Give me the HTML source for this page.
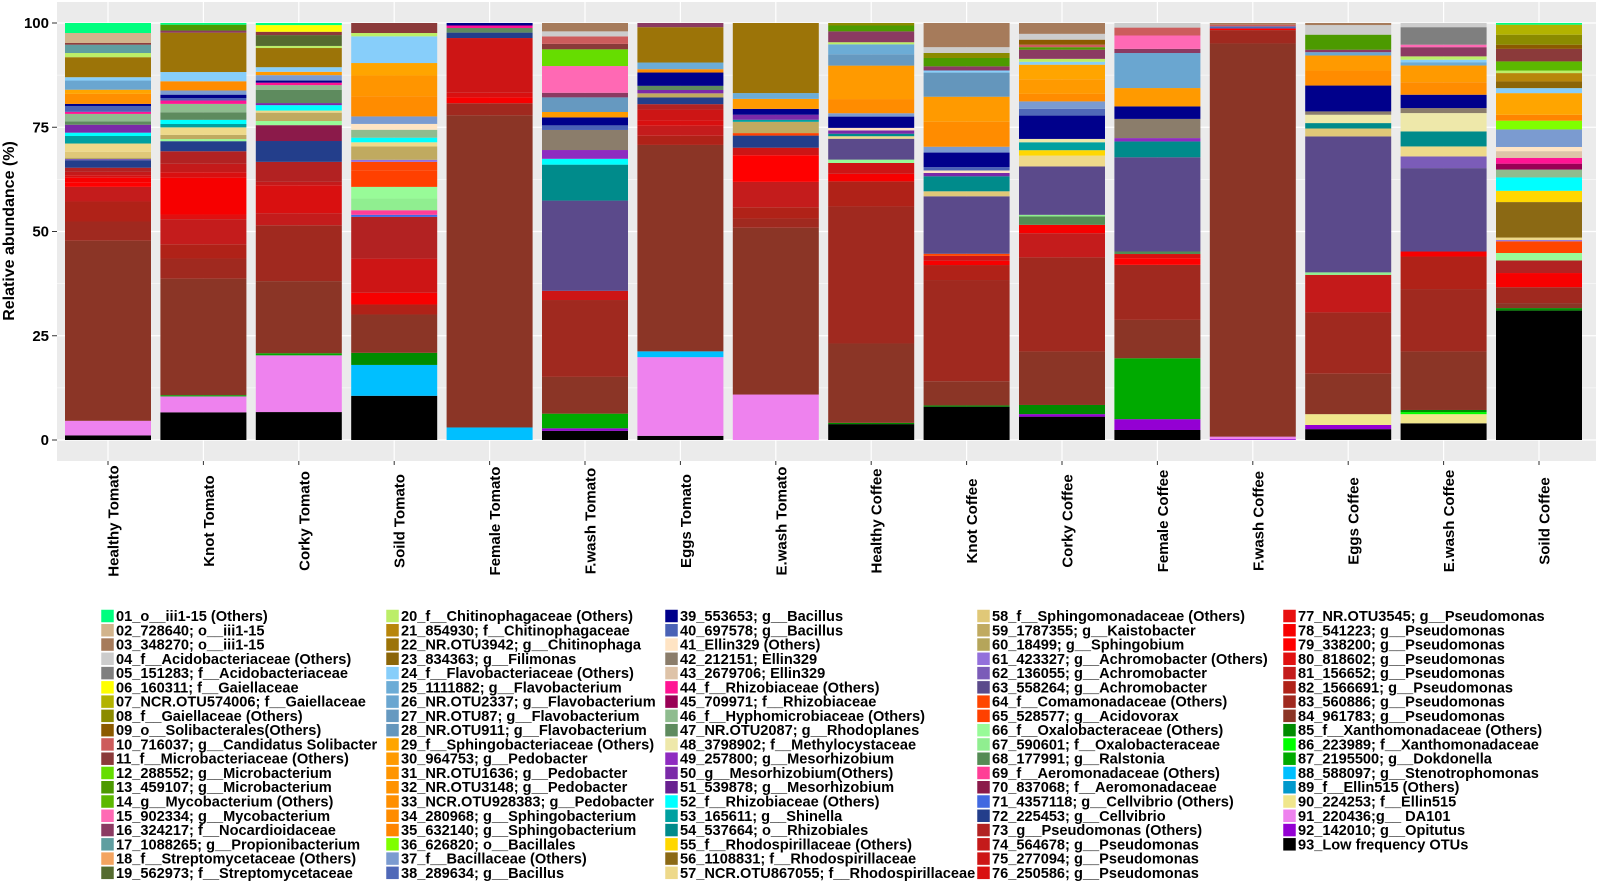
<!DOCTYPE html>
<html><head><meta charset="utf-8">
<style>
html,body{margin:0;padding:0;background:#fff;}
svg{display:block;font-family:"Liberation Sans",Arial,sans-serif;}
</style></head>
<body>
<svg id="chart" width="1598" height="883" viewBox="0 0 1598 883" xmlns="http://www.w3.org/2000/svg">
  <rect x="57" y="2" width="1539" height="459" fill="#ebebeb"/>
  <g id="grid"></g>
  <g id="bars"></g>
  <g id="yaxis"></g>
  <g id="xaxis"></g>
  <text transform="translate(14,231) rotate(-90)" text-anchor="middle" font-size="16" font-weight="bold" fill="#000">Relative abundance (%)</text>
  <g id="legend"></g>
</svg>
<script>
const samples = ["Healthy Tomato","Knot Tomato","Corky Tomato","Soild Tomato","Female Tomato","F.wash Tomato","Eggs Tomato","E.wash Tomato","Healthy Coffee","Knot Coffee","Corky Coffee","Female Coffee","F.wash Coffee","Eggs Coffee","E.wash Coffee","Soild Coffee"];
const yTicks = [0,25,50,75,100];
const categories = ["01_o__iii1-15  (Others)","02_728640; o__iii1-15","03_348270; o__iii1-15","04_f__Acidobacteriaceae (Others)","05_151283; f__Acidobacteriaceae","06_160311; f__Gaiellaceae","07_NCR.OTU574006; f__Gaiellaceae","08_f__Gaiellaceae (Others)","09_o__Solibacterales(Others)","10_716037; g__Candidatus Solibacter","11_f__Microbacteriaceae (Others)","12_288552; g__Microbacterium","13_459107; g__Microbacterium","14_g__Mycobacterium (Others)","15_902334; g__Mycobacterium","16_324217; f__Nocardioidaceae","17_1088265; g__Propionibacterium","18_f__Streptomycetaceae (Others)","19_562973; f__Streptomycetaceae","20_f__Chitinophagaceae (Others)","21_854930; f__Chitinophagaceae","22_NR.OTU3942; g__Chitinophaga","23_834363; g__Filimonas","24_f__Flavobacteriaceae (Others)","25_1111882; g__Flavobacterium","26_NR.OTU2337; g__Flavobacterium","27_NR.OTU87; g__Flavobacterium","28_NR.OTU911; g__Flavobacterium","29_f__Sphingobacteriaceae  (Others)","30_964753; g__Pedobacter","31_NR.OTU1636; g__Pedobacter","32_NR.OTU3148; g__Pedobacter","33_NCR.OTU928383; g__Pedobacter","34_280968; g__Sphingobacterium","35_632140; g__Sphingobacterium","36_626820; o__Bacillales","37_f__Bacillaceae (Others)","38_289634; g__Bacillus","39_553653; g__Bacillus","40_697578; g__Bacillus","41_Ellin329 (Others)","42_212151; Ellin329","43_2679706; Ellin329","44_f__Rhizobiaceae (Others)","45_709971; f__Rhizobiaceae","46_f__Hyphomicrobiaceae (Others)","47_NR.OTU2087; g__Rhodoplanes","48_3798902; f__Methylocystaceae","49_257800; g__Mesorhizobium","50_g__Mesorhizobium(Others)","51_539878; g__Mesorhizobium","52_f__Rhizobiaceae  (Others)","53_165611; g__Shinella","54_537664; o__Rhizobiales","55_f__Rhodospirillaceae (Others)","56_1108831; f__Rhodospirillaceae","57_NCR.OTU867055; f__Rhodospirillaceae","58_f__Sphingomonadaceae (Others)","59_1787355; g__Kaistobacter","60_18499; g__Sphingobium","61_423327; g__Achromobacter (Others)","62_136055; g__Achromobacter","63_558264; g__Achromobacter","64_f__Comamonadaceae (Others)","65_528577; g__Acidovorax","66_f__Oxalobacteraceae  (Others)","67_590601; f__Oxalobacteraceae","68_177991; g__Ralstonia","69_f__Aeromonadaceae  (Others)","70_837068; f__Aeromonadaceae","71_4357118; g__Cellvibrio (Others)","72_225453; g__Cellvibrio","73_g__Pseudomonas (Others)","74_564678; g__Pseudomonas","75_277094; g__Pseudomonas","76_250586; g__Pseudomonas","77_NR.OTU3545; g__Pseudomonas","78_541223; g__Pseudomonas","79_338200; g__Pseudomonas","80_818602; g__Pseudomonas","81_156652; g__Pseudomonas","82_1566691; g__Pseudomonas","83_560886; g__Pseudomonas","84_961783; g__Pseudomonas","85_f__Xanthomonadaceae (Others)","86_223989; f__Xanthomonadaceae","87_2195500; g__Dokdonella","88_588097; g__Stenotrophomonas","89_f__Ellin515 (Others)","90_224253; f__Ellin515","91_220436;g__ DA101","92_142010; g__Opitutus","93_Low frequency OTUs"];
const palette = ["#00FF7F","#D2B48C","#A67B5B","#CCCCCC","#7F7F7F","#FFFF00","#B3B300","#8B8B00","#8B5A00","#CD5C5C","#8B3A3A","#66DD00","#4C9A00","#5CB800","#FF69B4","#8B3A62","#5F9EA0","#F4A460","#556B2F","#BCEE68","#B8860B","#9C7408","#8B6508","#87CEFA","#6CACD6","#6AA6D0","#6699C0","#6496BC","#FFA500","#FF9A00","#FF9500","#FF9200","#FF8F00","#FF8C00","#FF8500","#7FFF00","#7B9BD0","#4F68B8","#00008B","#4A62B6","#FFE4C4","#8B7D6B","#DEC3A8","#FF1493","#990055","#8FBC8F","#5E8B5E","#EEE8AA","#8E2BC0","#7A2AA8","#682090","#00FFFF","#00A0A0","#008B8B","#FFD700","#8B6914","#EED98A","#E0C878","#C0AA60","#B5A55A","#9370DB","#7B5CB8","#5B4A8B","#FF4500","#FF4000","#98FB98","#90EE90","#548B54","#FF3E96","#8B1A4A","#4169E1","#233E8B","#B22222","#C41A1A","#CD1515","#D91010","#E81010","#F70000","#FF0000","#E01010","#C41C1C","#B02218","#A0291F","#8B3526","#008B00","#00FF00","#00AA00","#00BFFF","#0099CC","#F0E68C","#EE82EE","#9400D3","#000000"];
// [category number, % abundance] per sample
const healthyTomato = [[1,2.4],[2,2.4],[11,0.4],[17,2],[20,1],[22,4.8],[24,0.8],[26,2.2],[29,1],[33,2.4],[39,0.5],[40,1.4],[44,0.5],[46,1.8],[47,0.8],[50,1.9],[52,0.8],[53,1.8],[57,2],[58,1.4],[60,0.3],[62,0.3],[72,1.8],[73,1],[74,0.8],[76,0.6],[78,1.2],[79,1],[81,3.5],[82,4.8],[83,4.6],[84,43.2],[91,3.5],[93,1.1]];
const knotTomato = [[1,0.4],[13,1.4],[16,0.5],[22,9.4],[24,2.2],[34,2.2],[37,1],[39,0.8],[40,0.6],[44,0.8],[46,2],[47,1.8],[52,1],[53,0.8],[57,1.8],[59,1],[66,0.5],[72,2.4],[73,3],[74,2],[76,1.3],[78,8.8],[80,1.1],[81,6],[82,3.4],[83,4.8],[84,27.8],[87,0.3],[91,3.8],[93,6.6]];
const corkyTomato = [[1,0.5],[6,1.6],[11,0.8],[19,2.6],[20,0.5],[22,4.6],[24,1.1],[30,0.8],[37,1.3],[39,0.5],[44,0.6],[46,1.1],[47,3.2],[50,0.5],[52,1.3],[57,0.5],[59,2],[66,1],[70,3.8],[72,5],[73,4.8],[74,0.8],[76,6.7],[81,2.9],[83,13.4],[84,17.3],[87,0.5],[91,13.6],[93,6.7]];
const soilTomato = [[11,2.4],[20,0.8],[24,6.4],[29,3],[31,5],[34,4.8],[37,1.8],[41,1.4],[46,1.9],[52,1.1],[57,1],[59,3.2],[61,0.5],[64,2],[65,4],[66,2.8],[67,2.8],[69,1.1],[71,0.5],[73,10],[75,8.2],[78,2.8],[82,2.4],[84,9.2],[85,2.9],[88,7.4],[93,10.6]];
const femaleTomato = [[44,0.6],[47,1.1],[39,0.6],[72,1.3],[76,1.1],[78,1.4],[75,13.1],[83,2.9],[84,74.7],[88,3]];
const fwashTomato = [[3,2],[4,1.2],[10,1.8],[11,1.3],[12,4],[15,6.4],[16,1.1],[27,3.5],[30,1.3],[39,1.9],[40,1.1],[42,4.8],[49,2.1],[52,1.4],[54,8.6],[63,21.6],[75,2.2],[83,18.4],[84,8.8],[87,3.5],[92,0.6],[93,2.2]];
const eggsTomato = [[16,1],[22,8.5],[25,1.6],[34,0.8],[39,3.2],[47,1],[50,0.8],[59,1],[72,1.6],[73,1.3],[75,2.6],[76,1.3],[81,2.4],[82,2.2],[84,49.6],[88,1.4],[91,18.9],[93,1]];
const ewashTomato = [[22,16.8],[25,1.4],[30,2.4],[39,1.4],[50,1.2],[53,0.5],[59,2.7],[65,0.6],[72,2.9],[75,1.8],[79,6.4],[81,6.1],[82,2.7],[83,2.2],[84,40],[91,10.9]];
const healthyCoffee = [[8,0.6],[13,1.4],[16,2.6],[20,0.5],[25,2.4],[27,2.7],[30,8],[34,3.4],[37,0.8],[39,2.7],[41,0.6],[50,0.8],[54,0.6],[57,0.6],[63,5],[66,0.8],[75,2.6],[78,1.8],[82,6],[83,32.8],[84,19],[85,0.3],[93,3.8]];
const knotCoffee = [[3,5.8],[4,1.4],[8,1.2],[13,2],[16,1],[24,0.5],[28,5.8],[30,6],[34,6],[37,1.4],[39,3.5],[40,0.8],[41,0.6],[50,0.8],[54,3.6],[58,1.2],[63,13.8],[64,0.5],[75,1.2],[78,1],[82,3.6],[83,24.3],[84,5.8],[85,0.3],[93,8]];
const corkyCoffee = [[3,2.6],[4,1.4],[9,1.2],[10,0.6],[13,0.6],[16,2.2],[20,0.7],[24,0.7],[29,3.5],[30,3.5],[34,1.8],[37,1.8],[38,1.6],[39,5.6],[48,0.8],[53,1.9],[55,1.3],[57,2.6],[63,11.6],[67,0.4],[68,2],[78,2],[81,5.8],[83,22.6],[84,12.8],[85,2.2],[92,0.6],[93,5.6]];
const femaleCoffee = [[4,1.1],[10,1.9],[15,3.2],[16,1],[26,8.4],[30,4.4],[39,3],[42,4.6],[49,0.8],[54,3.8],[63,22.6],[68,0.6],[76,1],[79,1.6],[83,13.2],[84,9.2],[87,14.6],[92,2.6],[93,2.4]];
const fwashCoffee = [[3,0.4],[38,0.5],[10,0.4],[79,0.4],[83,3.2],[84,94.2],[91,0.6],[92,0.2]];
const eggsCoffee = [[3,0.5],[4,2.3],[13,3.6],[16,0.6],[26,0.8],[30,3.6],[34,3.6],[39,6.2],[42,0.8],[48,2],[54,1.3],[58,1.9],[63,32.6],[67,0.6],[74,9],[83,14.7],[84,9.7],[90,2.6],[92,1],[93,2.6]];
const ewashCoffee = [[4,1],[5,4.2],[15,0.6],[16,2.2],[20,0.8],[24,0.6],[25,0.8],[30,4],[34,3],[39,3.2],[42,1.2],[48,4.4],[54,3.6],[57,2.4],[62,2.8],[63,20],[78,1.2],[82,7.8],[83,15],[84,14],[85,0.5],[86,0.5],[90,2.2],[93,4]];
const soilCoffee = [[1,0.4],[7,2.4],[8,2.4],[9,1],[11,3],[14,2.2],[20,0.6],[21,2],[23,1.6],[24,1.2],[29,5.2],[35,1.4],[36,2.1],[37,4.2],[41,1],[43,1.6],[44,1.4],[45,1.4],[46,1.9],[52,3.2],[55,2.7],[56,8.5],[57,0.6],[61,0.3],[64,2.8],[66,1.8],[73,3],[78,3.4],[83,3.8],[84,1.2],[85,0.6],[93,31]];
const sampleValues = [healthyTomato,knotTomato,corkyTomato,soilTomato,femaleTomato,fwashTomato,eggsTomato,ewashTomato,healthyCoffee,knotCoffee,corkyCoffee,femaleCoffee,fwashCoffee,eggsCoffee,ewashCoffee,soilCoffee];

const NS = "http://www.w3.org/2000/svg";
function mk(tag, attrs, parent){const e=document.createElementNS(NS,tag);for(const k in attrs)e.setAttribute(k,attrs[k]);parent.appendChild(e);return e;}
const Y0=440, Y100=23;
function yScale(v){return Y0-(Y0-Y100)*v/100;}
const barX0=65, barPitch=95.4, barW=86;
function xLeft(i){return barX0+i*barPitch;}
function xCenter(i){return xLeft(i)+barW/2;}

const grid=document.getElementById('grid');
for(let v=12.5; v<100; v+=25){
  const l=mk('line',{x1:57,x2:1596,y1:yScale(v),y2:yScale(v),stroke:'#fff','stroke-width':0.6},grid);
  
  
}
yTicks.forEach(v=>{
  const l=mk('line',{x1:57,x2:1596,y1:yScale(v),y2:yScale(v),stroke:'#fff','stroke-width':1.2},grid);
  
  
});
samples.forEach((s,i)=>{
  const l=mk('line',{x1:xCenter(i),x2:xCenter(i),y1:2,y2:461,stroke:'#fff','stroke-width':1.2},grid);
  
  
});

const bars=document.getElementById('bars');
sampleValues.forEach((vals,i)=>{
  const g=mk('g',{},bars);
  
  
  const sorted=vals.slice().sort((a,b)=>b[0]-a[0]);
  const total=sorted.reduce((a,b)=>a+b[1],0);
  let cum=0;
  sorted.forEach(([c,v])=>{
    const pct=v/total*100;
    const yTop=yScale(cum+pct), yBot=yScale(cum);
    const r=mk('rect',{x:xLeft(i),y:yTop,width:barW,height:Math.max(0,yBot-yTop),fill:palette[c-1]},g);
    
    
    cum+=pct;
  });
});

const yaxis=document.getElementById('yaxis');
yTicks.forEach(v=>{
  const t=mk('line',{x1:52,x2:57,y1:yScale(v),y2:yScale(v),stroke:'#333','stroke-width':1},yaxis);
  
  
  const tx=mk('text',{x:49,y:yScale(v)+5,'text-anchor':'end','font-size':15,'font-weight':'bold',fill:'#000'},yaxis);
  tx.textContent=v;
  
  
});
const xaxis=document.getElementById('xaxis');
samples.forEach((s,i)=>{
  const t=mk('line',{x1:xCenter(i),x2:xCenter(i),y1:461,y2:465,stroke:'#333','stroke-width':1},xaxis);
  
  
  const tx=mk('text',{transform:'translate('+(xCenter(i)+10.5)+',521) rotate(-90)','text-anchor':'middle','font-size':15,'font-weight':'bold',fill:'#000'},xaxis);
  tx.textContent=s;
  
  
});

const legend=document.getElementById('legend');
const colX=[101,386,665,977,1283];
const perCol=19, rowH=14.27, row0=616;
categories.forEach((c,k)=>{
  const col=Math.floor(k/perCol), row=k%perCol;
  const y=row0+row*rowH;
  const g=mk('g',{},legend);
  
  
  const r=mk('rect',{x:colX[col],y:y-6.5,width:13,height:13,fill:palette[k],stroke:'#fff','stroke-width':0.5},g);
  
  
  const t=mk('text',{x:colX[col]+15,y:y+5,'font-size':14.6,'font-weight':'bold',fill:'#000'},g);
  t.textContent=c;
  
  
});
</script>
</body></html>
